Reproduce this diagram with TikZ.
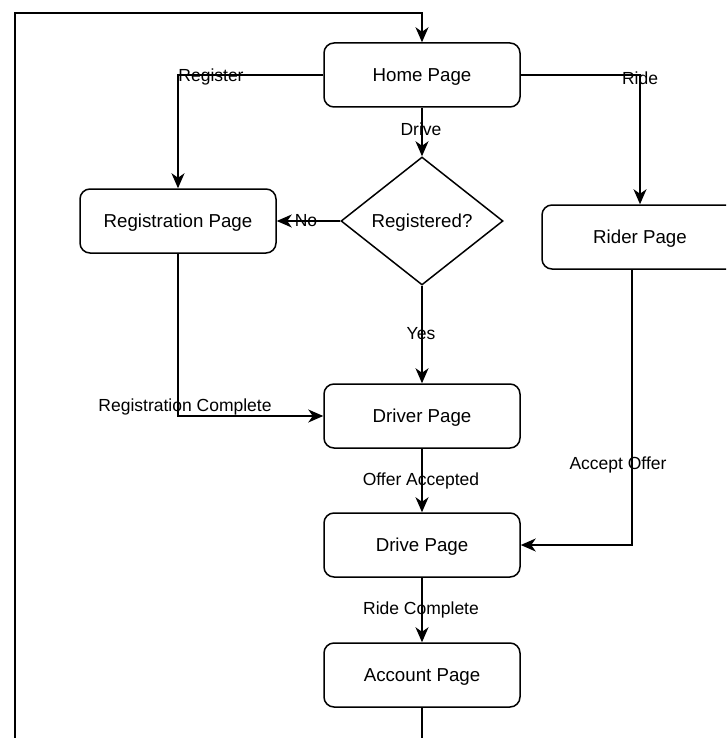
\documentclass[tikz,border=0pt]{standalone}
\usepackage{fontspec}
\setmainfont{Liberation Sans}
\usetikzlibrary{shapes.geometric,arrows.meta,calc}
\begin{document}
\begin{tikzpicture}[x=1pt,y=-1pt,
  pagebox/.style={draw,line width=1.5pt,rounded corners=10pt,minimum width=196pt,minimum height=64pt,inner sep=0pt,text height=13.4pt,text depth=0pt,font=\fontsize{18.7}{22}\selectfont},
  decision/.style={draw,line width=1.5pt,diamond,aspect=1.27,minimum width=162pt,minimum height=128pt,inner sep=0pt,text height=13.4pt,text depth=0pt,font=\fontsize{18.7}{22}\selectfont},
  arr/.style={line width=1.5pt,-{Stealth[length=15pt,width=13pt,inset=4.5pt]}},
  lbl/.style={inner sep=0pt,text height=12.5pt,text depth=0pt,font=\fontsize{17.5}{20}\selectfont}]
\useasboundingbox (0,0) rectangle (726,738);
\clip (0,0) rectangle (726,738);
\node[pagebox] (home) at (422,75) {Home Page};
\node[pagebox] (reg) at (178,221) {Registration Page};
\node[decision] (dia) at (422,221) {Registered?};
\node[pagebox] (rider) at (640,237) {Rider Page};
\node[pagebox] (driver) at (422,416) {Driver Page};
\node[pagebox] (drive) at (422,545) {Drive Page};
\node[pagebox] (acct) at (422,675) {Account Page};
\coordinate (lb) at (15,760);
\coordinate (lt) at (15,13);
\coordinate (rs) at ($(rider.south)+(-8,0)$);
\draw[arr] (home.west) -| (reg.north);
\draw[arr] (home.east) -| (rider.north);
\draw[arr] (home.south) -- (dia.north);
\draw[arr] (dia.west) -- (reg.east);
\draw[arr] (dia.south) -- (driver.north);
\draw[arr] (reg.south) |- (driver.west);
\draw[arr] (driver.south) -- (drive.north);
\draw[arr] (rs) |- (drive.east);
\draw[arr] (drive.south) -- (acct.north);
\draw[arr] (acct.south) |- (lb) -- (lt) -| (home.north);
\node[lbl] (l1) at (211,75) {Register};
\node[lbl] (l2) at (640,78) {Ride};
\node[lbl] (l3) at (421,129) {Drive};
\node[lbl] (l4) at (306,220) {No};
\node[lbl] (l5) at (421,333) {Yes};
\node[lbl] (l6) at (185,405) {Registration Complete};
\node[lbl] (l7) at (421,479) {Offer Accepted};
\node[lbl] (l8) at (618,463) {Accept Offer};
\node[lbl] (l9) at (421,608) {Ride Complete};
\end{tikzpicture}
\end{document}
